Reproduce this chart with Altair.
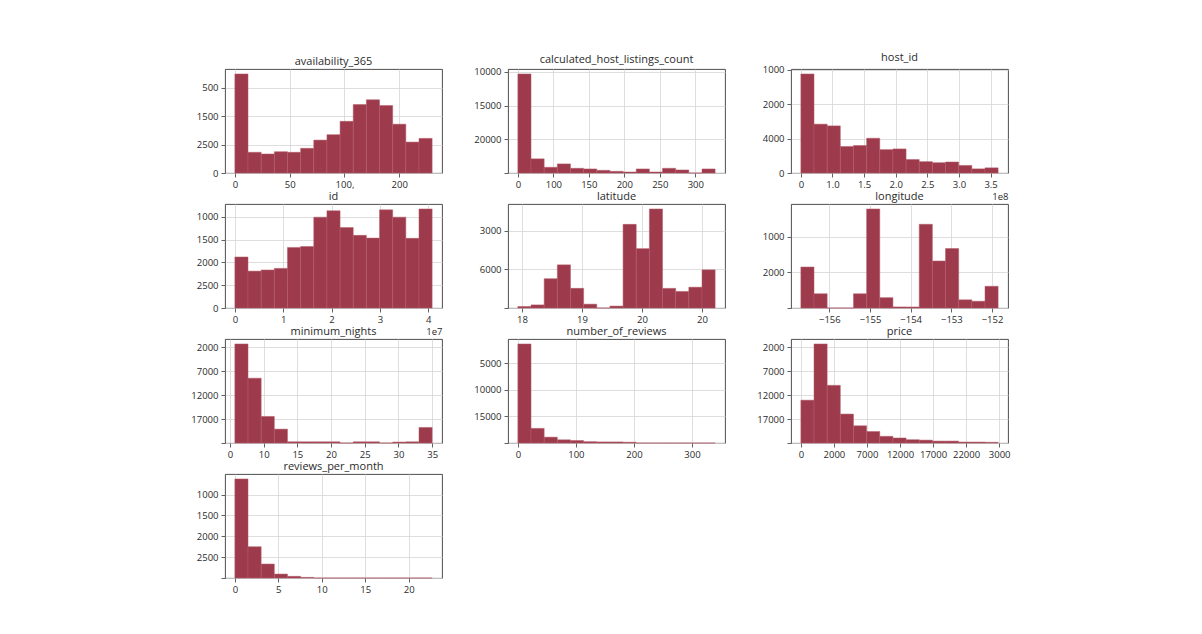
import altair as alt
import pandas as pd

# ---- data (bar heights in counts) ----
names = ["availability_365", "calculated_host_listings_count", "host_id",
         "id", "latitude", "longitude",
         "minimum_nights", "number_of_reviews", "price",
         "reviews_per_month"]

x_lo = [0, 0, 0, 0, 17.93, -156.70, 0.73, 0, 0, 0]
x_hi = [180, 278, 3.12, 4.08, 21.22, -151.85, 30.0, 340, 29850, 22.7]

counts_availability = [3490, 730, 670, 750, 730, 870, 1160, 1350, 1820, 2410, 2580, 2380, 1720, 1090, 1220]
counts_calc_host = [2940, 420, 170, 270, 140, 120, 80, 50, 30, 120, 30, 140, 90, 0, 120]
counts_host_id = [2880, 1420, 1370, 770, 800, 1010, 680, 700, 390, 330, 300, 320, 220, 120, 150]
counts_id = [2240, 1620, 1670, 1740, 2660, 2700, 3990, 4270, 3530, 3190, 3070, 4310, 3990, 3060, 4350]
counts_latitude = [40, 80, 760, 1120, 510, 100, 0, 50, 2170, 1540, 2570, 510, 430, 540, 990]
counts_longitude = [1150, 400, 0, 0, 400, 2780, 290, 30, 30, 2350, 1320, 1670, 230, 190, 610]
counts_min_nights = [4140, 2710, 1110, 580, 50, 50, 50, 50, 0, 50, 50, 0, 40, 50, 650]
counts_reviews = [3720, 550, 220, 120, 90, 50, 40, 40, 30, 0, 0, 0, 0, 0, 0]
counts_price = [1790, 4140, 2410, 1210, 720, 480, 280, 210, 140, 120, 80, 80, 40, 40, 30]
counts_rpm = [4750, 1500, 670, 190, 80, 30, 0, 0, 0, 0, 0, 0, 0, 0, 0]

all_counts = [counts_availability, counts_calc_host, counts_host_id, counts_id,
              counts_latitude, counts_longitude, counts_min_nights, counts_reviews,
              counts_price, counts_rpm]

x_ticks = [
    [0, 50, 100, 150],
    [0, 50, 100, 150, 200, 250],
    [0, 0.5, 1.0, 1.5, 2.0, 2.5, 3.0],
    [0, 1, 2, 3, 4],
    [18, 19, 20, 21],
    [-156, -155, -154, -153, -152],
    [0, 5, 10, 15, 20, 25, 30],
    [0, 100, 200, 300],
    [0, 5000, 10000, 15000, 20000, 25000, 30000],
    [0, 5, 10, 15, 20],
]
x_labels = [
    ["0", "50", "100,", "200"],
    ["0", "100", "150", "200", "250", "300"],
    ["0", "1.0", "1.5", "2.0", "2.5", "3.0", "3.5"],
    ["0", "1", "2", "3", "4"],
    ["18", "19", "20", "20"],
    ["\u2212156", "\u2212155", "\u2212154", "\u2212153", "\u2212152"],
    ["0", "10", "15", "20", "25", "30", "35"],
    ["0", "100", "200", "300"],
    ["0", "2000", "7000", "12000", "17000", "22000", "3000"],
    ["0", "5", "10", "15", "20"],
]
y_ticks = [
    [0, 1000, 2000, 3000],
    [0, 1000, 2000, 3000],
    [0, 1000, 2000, 3000],
    [0, 1000, 2000, 3000, 4000],
    [0, 1000, 2000],
    [0, 1000, 2000],
    [0, 1000, 2000, 3000, 4000],
    [0, 1000, 2000, 3000],
    [0, 1000, 2000, 3000, 4000],
    [0, 1000, 2000, 3000, 4000],
]
y_labels = [
    ["0", "2500", "1500", "500"],
    ["", "20000", "15000", "10000"],
    ["0", "4000", "2000", "1000"],
    ["0", "2500", "2000", "1500", "1000"],
    ["", "6000", "3000"],
    ["", "2000", "1000"],
    ["", "17000", "12000", "7000", "2000"],
    ["", "15000", "10000", "5000"],
    ["", "17000", "12000", "7000", "2000"],
    ["", "2500", "2000", "1500", "1000"],
]
offset_text = ["", "", "1e8", "1e7", "", "", "", "", "", ""]

FONT = "Open Sans"
BAR = "#9d3b4c"
TXT = "#2b2b2b"


def label_expr(vals, labs):
    parts = [f"abs(datum.value - ({v})) < 1e-6 ? '{l}'" for v, l in zip(vals, labs)]
    return " : ".join(parts) + " : ''"


def panel(i):
    c = all_counts[i]
    lo, hi = x_lo[i], x_hi[i]
    n = len(c)
    w = (hi - lo) / n
    df = pd.DataFrame({
        "x0": [lo + k * w for k in range(n)],
        "x1": [lo + (k + 1) * w for k in range(n)],
        "count": c,
    })
    pad = 0.05 * (hi - lo)
    ymax = max(c) * 1.05
    xaxis = dict(values=x_ticks[i], labelExpr=label_expr(x_ticks[i], x_labels[i]),
                 grid=True, labelOverlap=False, labelFlush=False)
    if offset_text[i]:
        xaxis.update(title=offset_text[i], titleAnchor="end", titleAlign="right",
                     titleFontSize=9.5, titleFontWeight="normal", titleFont=FONT,
                     titleColor=TXT, titlePadding=3)
    else:
        xaxis.update(title=None)
    return alt.Chart(df).mark_rect(
        color=BAR, stroke="#b45a69", strokeWidth=0.5
    ).encode(
        x=alt.X("x0:Q", scale=alt.Scale(domain=[lo - pad, hi + pad], nice=False, zero=False),
                axis=alt.Axis(**xaxis)),
        x2="x1:Q",
        y=alt.Y("count:Q", scale=alt.Scale(domain=[0, ymax], nice=False),
                axis=alt.Axis(values=y_ticks[i], labelExpr=label_expr(y_ticks[i], y_labels[i]),
                              grid=True, title=None, labelOverlap=False, labelFlush=False,
                              labelPadding=3)),
        y2=alt.datum(0),
    ).properties(
        width=217, height=104,
        title=alt.TitleParams(names[i], fontSize=11, font=FONT, fontWeight="normal",
                              color=TXT, offset=2),
    )


chart = alt.concat(
    *[panel(i) for i in range(len(names))],
    columns=3,
    spacing={"row": 31, "column": 66},
    bounds="flush",
).properties(
    padding={"left": 182, "top": 43, "right": 100, "bottom": 10},
    background="white",
).configure_view(
    stroke="#3a3a3a", strokeWidth=0.9
).configure_axis(
    domain=False,
    tickColor="#3a3a3a", tickSize=4, tickWidth=0.8,
    gridColor="#d6d6d6", gridWidth=0.8,
    labelFont=FONT, labelFontSize=9.5, labelColor=TXT, labelPadding=2,
)

chart.save("out.html", embed_options={"renderer": "svg", "actions": False})
